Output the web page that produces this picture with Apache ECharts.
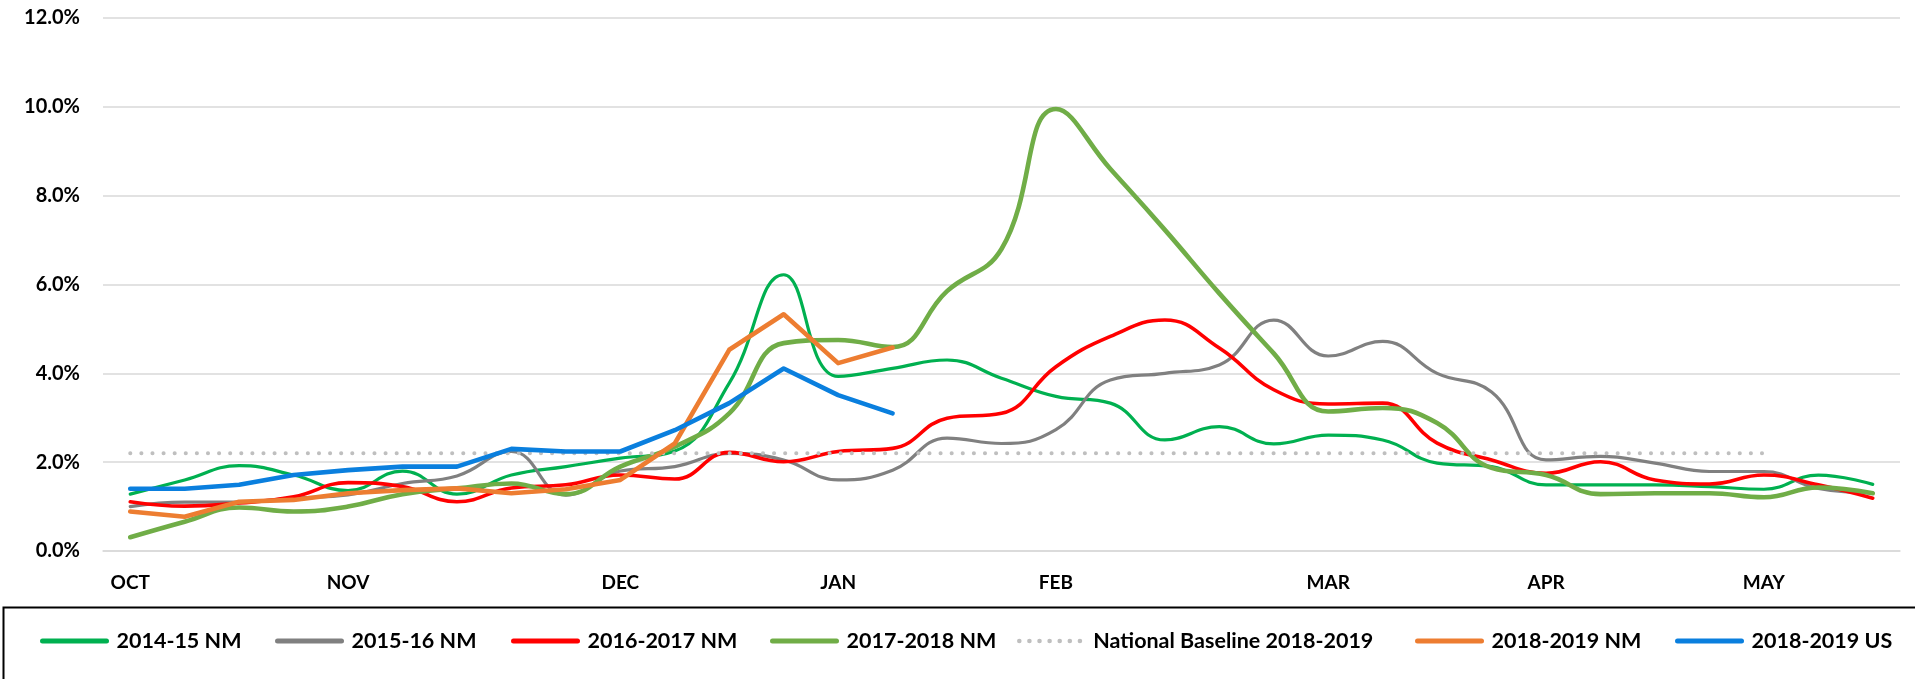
<!DOCTYPE html>
<html>
<head>
<meta charset="utf-8">
<script src="https://cdn.jsdelivr.net/npm/echarts@6/dist/echarts.min.js"></script>
<style>
html,body{margin:0;padding:0;background:#fff;}
#chart{width:1915px;height:679px;}
</style>
</head>
<body>
<div id="chart"></div>
<script>
// Surveillance weeks (Oct week 40 through May week 20)
const weeks = [40,41,42,43,44,45,46,47,48,49,50,51,52,1,2,3,4,5,6,7,8,9,10,11,12,13,14,15,16,17,18,19,20];
const tickLabels = ['OCT','','','','NOV','','','','','DEC','','','','JAN','','','','FEB','','','','','MAR','','','','APR','','','','MAY','',''];
const yTicks = [0,2,4,6,8,10,12];

const s2014 = [1.28,1.60,1.92,1.71,1.36,1.80,1.28,1.71,1.90,2.09,2.25,3.78,6.22,3.93,4.11,4.30,3.89,3.48,3.33,2.50,2.80,2.41,2.61,2.50,1.98,1.90,1.49,1.49,1.49,1.45,1.39,1.71,1.50];
const s2015 = [1.00,1.10,1.10,1.19,1.26,1.52,1.69,2.24,1.26,1.80,1.90,2.20,2.05,1.60,1.82,2.54,2.42,2.73,3.85,4.00,4.19,5.20,4.39,4.72,4.00,3.58,2.05,2.13,1.98,1.79,1.79,1.41,1.31];
const s2016 = [1.11,1.01,1.08,1.22,1.54,1.45,1.11,1.42,1.49,1.71,1.62,2.22,2.01,2.24,2.31,2.99,3.10,4.15,4.83,5.20,4.57,3.63,3.31,3.33,2.43,2.05,1.75,2.01,1.60,1.51,1.71,1.49,1.19];
const s2017 = [0.31,0.66,0.98,0.89,1.00,1.28,1.41,1.52,1.28,1.90,2.35,3.10,4.68,4.75,4.59,5.85,6.80,9.95,8.60,7.23,5.80,4.45,3.14,3.22,2.88,1.87,1.71,1.28,1.30,1.30,1.21,1.43,1.30];
const baseline = [2.2,2.2,2.2,2.2,2.2,2.2,2.2,2.2,2.2,2.2,2.2,2.2,2.2,2.2,2.2,2.2,2.2,2.2,2.2,2.2,2.2,2.2,2.2,2.2,2.2,2.2,2.2,2.2,2.2,2.2,2.2];
const s2018nm = [0.89,0.77,1.11,1.15,1.30,1.37,1.41,1.30,1.39,1.60,2.42,4.53,5.33,4.23,4.58];
const s2018us = [1.40,1.40,1.49,1.71,1.82,1.90,1.90,2.30,2.24,2.24,2.72,3.33,4.11,3.51,3.10];

const names = ['2014-15 NM','2015-16 NM','2016-2017 NM','2017-2018 NM','National Baseline 2018-2019','2018-2019 NM','2018-2019 US'];
const legendLeft = [37, 272, 508, 767, 1014, 1412, 1672];

const FONT = 'Lato';
const chart = echarts.init(document.getElementById('chart'), null, {renderer:'canvas'});

function lineSeries(name, data, color, width, smooth, extra) {
  return Object.assign({
    name: name, type: 'line', data: data, smooth: smooth,
    symbol: 'none', showSymbol: false,
    lineStyle: {color: color, width: width, cap: 'round', join: 'round'},
    itemStyle: {color: color},
    emphasis: {disabled: true},
    animation: false
  }, extra || {});
}

const option = {
  animation: false,
  backgroundColor: '#fff',
  grid: {left: 103, right: 15, top: 18, bottom: 128, containLabel: false},
  xAxis: {
    type: 'category', data: weeks, boundaryGap: true,
    axisLine: {show: true, lineStyle: {color: '#D9D9D9', width: 1.5}},
    axisTick: {show: false},
    splitLine: {show: false},
    axisLabel: {
      interval: 0, margin: 22, color: '#000', fontFamily: FONT, fontWeight: 'bold', fontSize: 19,
      formatter: function (v, i) { return tickLabels[i]; }
    }
  },
  yAxis: {
    type: 'value', min: yTicks[0], max: yTicks[yTicks.length-1], interval: 2,
    axisLine: {show: false}, axisTick: {show: false},
    splitLine: {show: true, lineStyle: {color: '#D9D9D9', width: 1.5}},
    axisLabel: {margin: 23, color: '#000', fontFamily: FONT, fontWeight: 'bold', fontSize: 20,
      formatter: function (v) { return v.toFixed(1) + '%'; }}
  },
  legend: names.map(function (n, i) {
    const lg = {
      data: [n], left: legendLeft[i] + 3, top: 630, padding: 0, itemGap: 0,
      itemWidth: 64, itemHeight: 14,
      itemStyle: {opacity: 0},
      textStyle: {color: '#000', fontFamily: FONT, fontWeight: 'bold', fontSize: 21.5, padding: [0, 0, 0, 5]},
      selectedMode: false
    };
    if (i !== 4) lg.lineStyle = {width: 5, cap: 'round'};
    else lg.lineStyle = {width: 4.5, type: [0.1, 10], cap: 'round', color: '#BFBFBF'};
    return lg;
  }),
  graphic: [{
    type: 'rect', left: 1, top: 605, silent: true,
    shape: {x: 0, y: 0, width: 1930, height: 100},
    style: {fill: 'none', stroke: '#000', lineWidth: 2}
  }],
  series: [
    lineSeries(names[0], s2014, '#00B050', 3.2, 0.45),
    lineSeries(names[1], s2015, '#808080', 3.2, 0.45),
    lineSeries(names[2], s2016, '#FF0000', 3.6, 0.45),
    lineSeries(names[3], s2017, '#70AD47', 4.6, 0.45),
    lineSeries(names[4], baseline, '#BFBFBF', 4, false, {lineStyle: {color: '#BFBFBF', width: 4, type: [0.1, 11], cap: 'round'}}),
    lineSeries(names[5], s2018nm, '#ED7D31', 4.6, false),
    lineSeries(names[6], s2018us, '#0A7FDE', 4.6, false)
  ]
};
chart.setOption(option);
</script>
</body>
</html>
